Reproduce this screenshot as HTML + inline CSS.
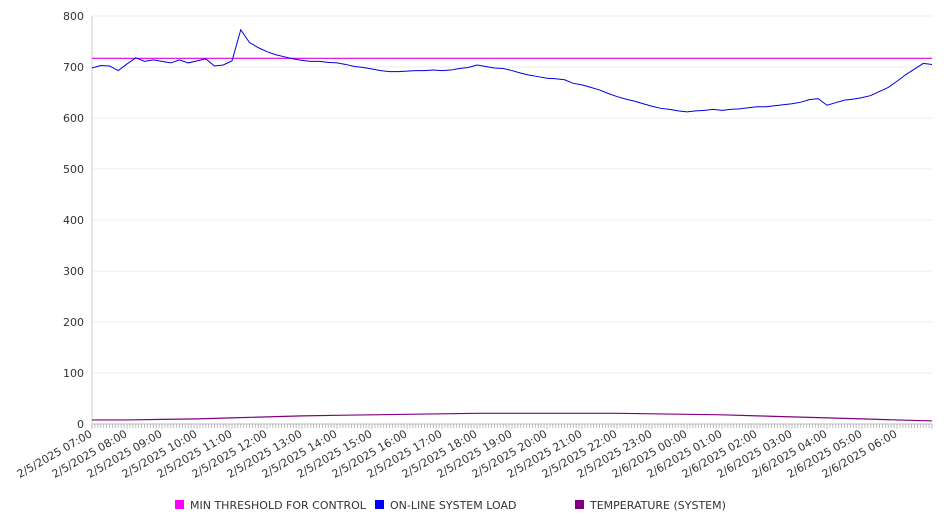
<!DOCTYPE html>
<html><head><meta charset="utf-8"><style>
body{margin:0;background:#fff;font-family:"Liberation Sans","DejaVu Sans",sans-serif;}
svg text{font-family:"DejaVu Sans","Liberation Sans",sans-serif;fill:#333;}
</style></head><body>
<svg id="chart" width="946" height="526" xmlns="http://www.w3.org/2000/svg"></svg>
<script>
const yTicks=[0,100,200,300,400,500,600,700,800];
const xLabels=["2/5/2025 07:00","2/5/2025 08:00","2/5/2025 09:00","2/5/2025 10:00","2/5/2025 11:00","2/5/2025 12:00","2/5/2025 13:00","2/5/2025 14:00","2/5/2025 15:00","2/5/2025 16:00","2/5/2025 17:00","2/5/2025 18:00","2/5/2025 19:00","2/5/2025 20:00","2/5/2025 21:00","2/5/2025 22:00","2/5/2025 23:00","2/6/2025 00:00","2/6/2025 01:00","2/6/2025 02:00","2/6/2025 03:00","2/6/2025 04:00","2/6/2025 05:00","2/6/2025 06:00"];
const threshold=717;
// on-line load every 15 minutes from 07:00
const loadValues=[698,703,702,693,706,718,711,714,711,708,714,708,712,716,702,704,712,773,748,738,730,724,720,716,713,711,711,709,708,705,701,699,696,693,691,691,692,693,693,694,693,694,697,699,704,701,698,697,693,688,684,681,678,677,675,668,665,660,655,648,642,637,633,628,623,619,617,614,612,614,615,617,615,617,618,620,622,622,624,626,628,631,636,638,625,630,635,637,640,644,652,660,672,685,696,707,705];
// temperature hourly from 07:00
const tempValues=[8,8,9,10,12,14,16,17,18,19,20,21,21,21,21,21,20,19,18,16,14,12,10,8,6];
const NS="http://www.w3.org/2000/svg";
const svg=document.getElementById('chart');
const X0=92,X1=932,Y0=424,Y1=16,HOURS=24;
const xH=h=>X0+(X1-X0)*h/HOURS;
const y=v=>Y0-(Y0-Y1)*v/800;
function el(t,a,p){const e=document.createElementNS(NS,t);for(const k in a)e.setAttribute(k,a[k]);(p||svg).appendChild(e);return e;}
yTicks.forEach(v=>{
const g=el('line',{x1:X0,x2:X1,y1:y(v),y2:y(v),stroke:v===0?'#bbb':'#ececec','stroke-width':1});


const t=el('text',{x:84,y:y(v)+4,'text-anchor':'end','font-size':11});
t.textContent=v;


});
const ax=el('line',{x1:X0,x2:X0,y1:Y1,y2:Y0,stroke:'#ccc'});


for(let m=0;m<=HOURS*12;m++){
const tk=el('line',{x1:xH(m/12),x2:xH(m/12),y1:Y0,y2:Y0+(m%12===0?5:4),stroke:'#bbb'});


}
xLabels.forEach((l,i)=>{
const t=el('text',{x:0,y:0,'text-anchor':'end','font-size':11,transform:`translate(${xH(i)+1},${Y0+12}) rotate(-30)`});
t.textContent=l;


});
const thr=el('line',{x1:X0,x2:X1,y1:y(threshold),y2:y(threshold),stroke:'#e000e0','stroke-width':1.2});


const lp=el('polyline',{points:loadValues.map((v,i)=>`${xH(i*HOURS/(loadValues.length-1))},${y(v)}`).join(' '),fill:'none',stroke:'#0000e0','stroke-width':1});


const tp=el('polyline',{points:tempValues.map((v,i)=>`${xH(i*HOURS/(tempValues.length-1))},${y(v)}`).join(' '),fill:'none',stroke:'#800080','stroke-width':1.2});


const legend=[["MIN THRESHOLD FOR CONTROL","#ff00ff",175],["ON-LINE SYSTEM LOAD","#0000ff",375],["TEMPERATURE (SYSTEM)","#800080",575]];
legend.forEach(([n,c,x])=>{
const r=el('rect',{x:x,y:500,width:9,height:9,fill:c});


const t=el('text',{x:x+15,y:509,'font-size':11});
t.textContent=n;


});
</script>
</body></html>
